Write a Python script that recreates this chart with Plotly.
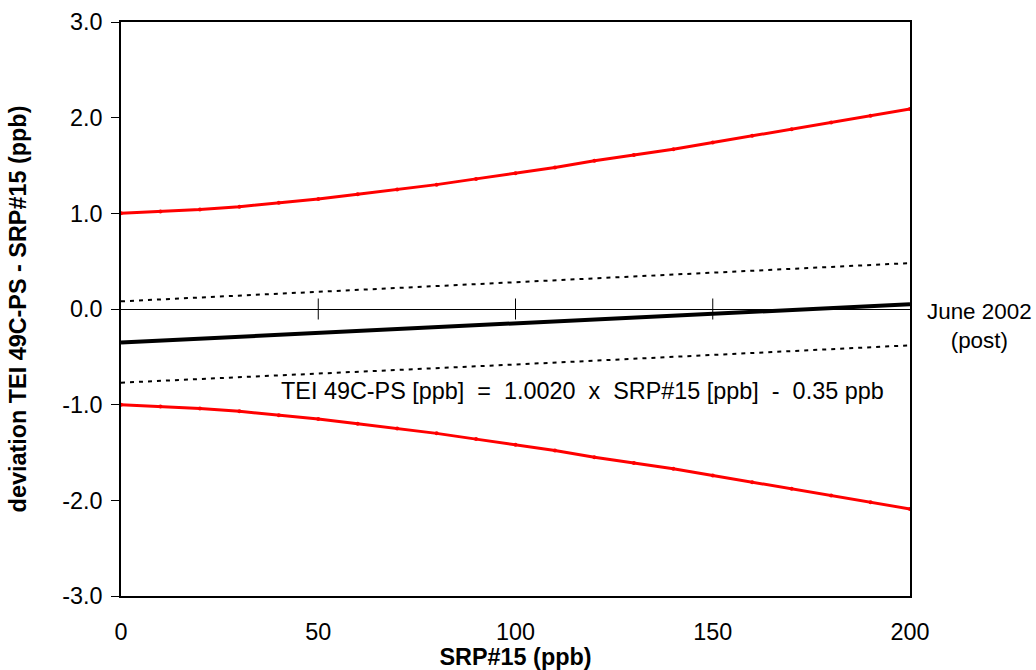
import plotly.graph_objects as go

# ---- data ----
x_crit = [0, 10, 20, 30, 40, 50, 60, 70, 80, 90, 100,
          110, 120, 130, 140, 150, 160, 170, 180, 190, 200]
upper_crit = [1.00, 1.02, 1.04, 1.07, 1.11, 1.15, 1.20, 1.25, 1.30, 1.36, 1.42,
              1.48, 1.55, 1.61, 1.67, 1.74, 1.81, 1.88, 1.95, 2.02, 2.09]
lower_crit = [-v for v in upper_crit]

x_reg = [0, 100, 200]
regression = [-0.35, -0.15, 0.05]
conf_upper = [0.08, 0.28, 0.48]
conf_lower = [-0.77, -0.58, -0.38]

zero_ticks_x = [50, 100, 150]
zero_ticks_y = [0, 0, 0]

x_ticks = [0, 50, 100, 150, 200]
y_ticks = [-3, -2, -1, 0, 1, 2, 3]
y_tick_text = ["-3.0", "-2.0", "-1.0", "0.0", "1.0", "2.0", "3.0"]

equation = ("TEI 49C-PS [ppb]\u00a0\u00a0=\u00a0\u00a01.0020\u00a0\u00a0x\u00a0\u00a0"
            "SRP#15 [ppb]\u00a0\u00a0-\u00a0\u00a00.35 ppb")
period_label = "June 2002<br>(post)"

FONT = "Liberation Sans, Arial, sans-serif"
FS = 23.4

fig = go.Figure()

fig.add_trace(go.Scatter(x=x_crit, y=upper_crit, mode="lines+markers",
                         line=dict(color="#ff0000", width=3),
                         marker=dict(color="#ff0000", size=4), showlegend=False))
fig.add_trace(go.Scatter(x=x_crit, y=lower_crit, mode="lines+markers",
                         line=dict(color="#ff0000", width=3),
                         marker=dict(color="#ff0000", size=4), showlegend=False))
fig.add_trace(go.Scatter(x=x_reg, y=conf_upper, mode="lines",
                         line=dict(color="black", width=2, dash="4px,5px"),
                         showlegend=False))
fig.add_trace(go.Scatter(x=x_reg, y=conf_lower, mode="lines",
                         line=dict(color="black", width=2, dash="4px,5px"),
                         showlegend=False))
fig.add_trace(go.Scatter(x=x_reg, y=regression, mode="lines",
                         line=dict(color="black", width=4), showlegend=False))
fig.add_trace(go.Scatter(x=zero_ticks_x, y=zero_ticks_y, mode="markers",
                         marker=dict(symbol="line-ns-open", size=15, color="black",
                                     line=dict(color="black", width=1)),
                         showlegend=False, cliponaxis=False))

fig.add_annotation(x=117, y=-0.86, xref="x", yref="y", text=equation,
                   showarrow=False, font=dict(family=FONT, size=FS, color="black"))
fig.add_annotation(x=(979 - 121) / 789, y=(596 - 326) / 574, xref="paper", yref="paper",
                   text=period_label, showarrow=False, align="center",
                   xanchor="center", yanchor="middle",
                   font=dict(family=FONT, size=FS - 1, color="black"))

fig.update_layout(
    width=1036, height=670,
    margin=dict(l=121, r=126, t=22, b=74),
    paper_bgcolor="white", plot_bgcolor="white",
    font=dict(family=FONT, size=FS, color="black"),
    xaxis=dict(range=[0, 200], tickvals=x_ticks, ticks="", showgrid=False,
               zeroline=False, showline=True, linecolor="black", linewidth=1.5,
               mirror=True, ticklabelstandoff=14, automargin=False,
               title=dict(text="<b>SRP#15 (ppb)</b>", standoff=6,
                          font=dict(family=FONT, size=FS))),
    yaxis=dict(range=[-3, 3], tickvals=y_ticks, ticktext=y_tick_text,
               ticks="outside", ticklen=8, tickcolor="black", tickwidth=1,
               ticklabelstandoff=4,
               showgrid=False, zeroline=True, zerolinecolor="black", zerolinewidth=1,
               showline=True, linecolor="black", linewidth=1.5, mirror=True,
               automargin=False,
               title=dict(text="<b>deviation TEI 49C-PS - SRP#15 (ppb)</b>",
                          standoff=29, font=dict(family=FONT, size=FS))),
    yaxis2=dict(range=[-3, 3], tickvals=y_ticks, overlaying="y", side="left",
                anchor="x", ticks="inside", ticklen=8, tickcolor="black",
                showticklabels=False, showgrid=False, zeroline=False, showline=False),
)

fig.write_html("out.html", config={"displayModeBar": False},
               post_script="document.body.style.margin='0';document.body.style.padding='0';")
